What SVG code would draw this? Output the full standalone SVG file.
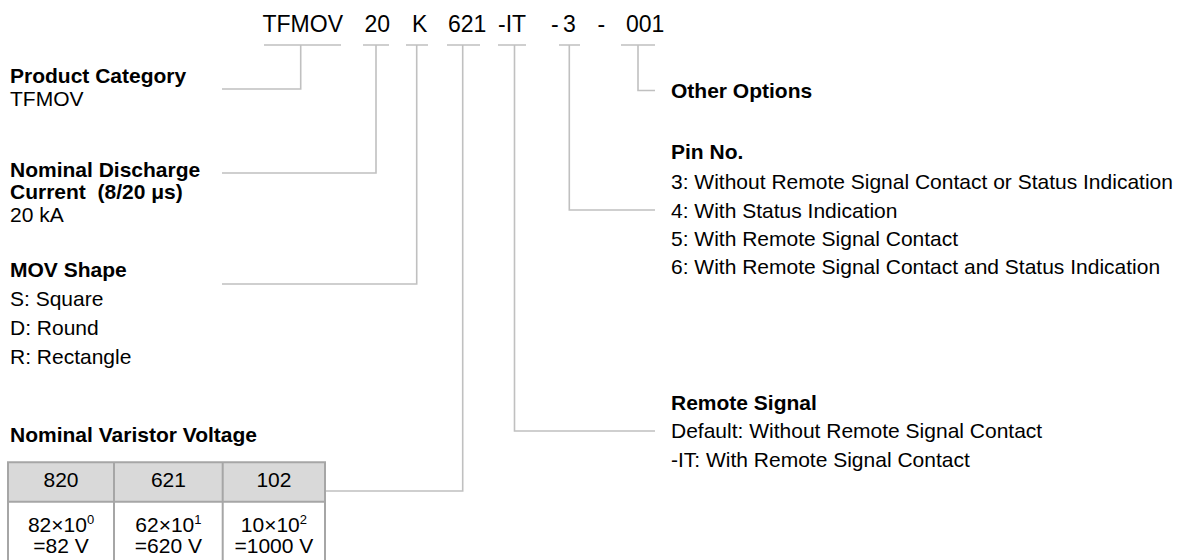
<svg xmlns="http://www.w3.org/2000/svg" width="1182" height="560" viewBox="0 0 1182 560">
<style>
text{font-family:"Liberation Sans",Arial,sans-serif;fill:#000;}
.code{font-size:23px;}
.b{font-size:21px;font-weight:bold;}
.r{font-size:21px;}
.c{font-size:21px;text-anchor:middle;}
.sup{font-size:13px;}
.ln{fill:none;stroke:#c0c0c0;stroke-width:1.6;}
.cell{stroke:#a6a6a6;stroke-width:2;}
</style>
<rect width="1182" height="560" fill="#fff"/>
<g id="code">
<text class="code" x="262.5" y="31.5">TFMOV</text>
<text class="code" x="364.5" y="31.5">20</text>
<text class="code" x="412" y="31.5">K</text>
<text class="code" x="448" y="31.5">621</text>
<text class="code" x="498" y="31.5">-IT</text>
<text class="code" x="551" y="31.5">-</text>
<text class="code" x="563" y="31.5">3</text>
<text class="code" x="597.5" y="31.5">-</text>
<text class="code" x="626" y="31.5">001</text>
</g>
<g id="connectors">
<path class="ln" d="M264 45H341M300.7 45V89H222"/>
<path class="ln" d="M363 45H389M376 45V173H222"/>
<path class="ln" d="M406 45H428M416.7 45V284H222"/>
<path class="ln" d="M447 45H480M462.7 45V491H325"/>
<path class="ln" d="M498 45H526M514.5 45V431H655"/>
<path class="ln" d="M559 45H580M569.3 45V210H655"/>
<path class="ln" d="M621 45H655M638 45V90.5H655"/>
</g>
<g id="product-category">
<text class="b" x="10" y="83">Product Category</text>
<text class="r" x="10" y="105.5">TFMOV</text>
</g>
<g id="discharge-current">
<text class="b" x="10" y="176.7">Nominal Discharge</text>
<text class="b" x="10" y="199.3" xml:space="preserve">Current  (8/20 μs)</text>
<text class="r" x="10" y="221.7">20 kA</text>
</g>
<g id="mov-shape">
<text class="b" x="10" y="276.7">MOV Shape</text>
<text class="r" x="10" y="306">S: Square</text>
<text class="r" x="10" y="335">D: Round</text>
<text class="r" x="10" y="364.3">R: Rectangle</text>
</g>
<g id="varistor-voltage">
<text class="b" x="10" y="441.7">Nominal Varistor Voltage</text>
<rect x="8" y="462.3" width="317" height="39.4" fill="#d9d9d9"/>
<rect x="8" y="501.7" width="317" height="70" fill="#fff"/>
<path class="cell" fill="none" d="M8 572V462.3H325V572M8 501.7H325M114 462.3V572M222.7 462.3V572"/>
<text class="c" x="61" y="486.7">820</text>
<text class="c" x="168.4" y="486.7">621</text>
<text class="c" x="273.9" y="486.7">102</text>
<text class="c" x="61" y="532">82×10<tspan class="sup" dy="-8">0</tspan></text>
<text class="c" x="168.4" y="532">62×10<tspan class="sup" dy="-8">1</tspan></text>
<text class="c" x="273.9" y="532">10×10<tspan class="sup" dy="-8">2</tspan></text>
<text class="c" x="61" y="553.3">=82 V</text>
<text class="c" x="168.4" y="553.3">=620 V</text>
<text class="c" x="273.9" y="553.3">=1000 V</text>
</g>
<g id="other-options">
<text class="b" x="671" y="98.3">Other Options</text>
</g>
<g id="pin-no">
<text class="b" x="671" y="159">Pin No.</text>
<text class="r" x="671" y="188.7">3: Without Remote Signal Contact or Status Indication</text>
<text class="r" x="671" y="218.3">4: With Status Indication</text>
<text class="r" x="671" y="246">5: With Remote Signal Contact</text>
<text class="r" x="671" y="274">6: With Remote Signal Contact and Status Indication</text>
</g>
<g id="remote-signal">
<text class="b" x="671" y="410">Remote Signal</text>
<text class="r" x="671" y="438">Default: Without Remote Signal Contact</text>
<text class="r" x="671" y="467">-IT: With Remote Signal Contact</text>
</g>
</svg>
